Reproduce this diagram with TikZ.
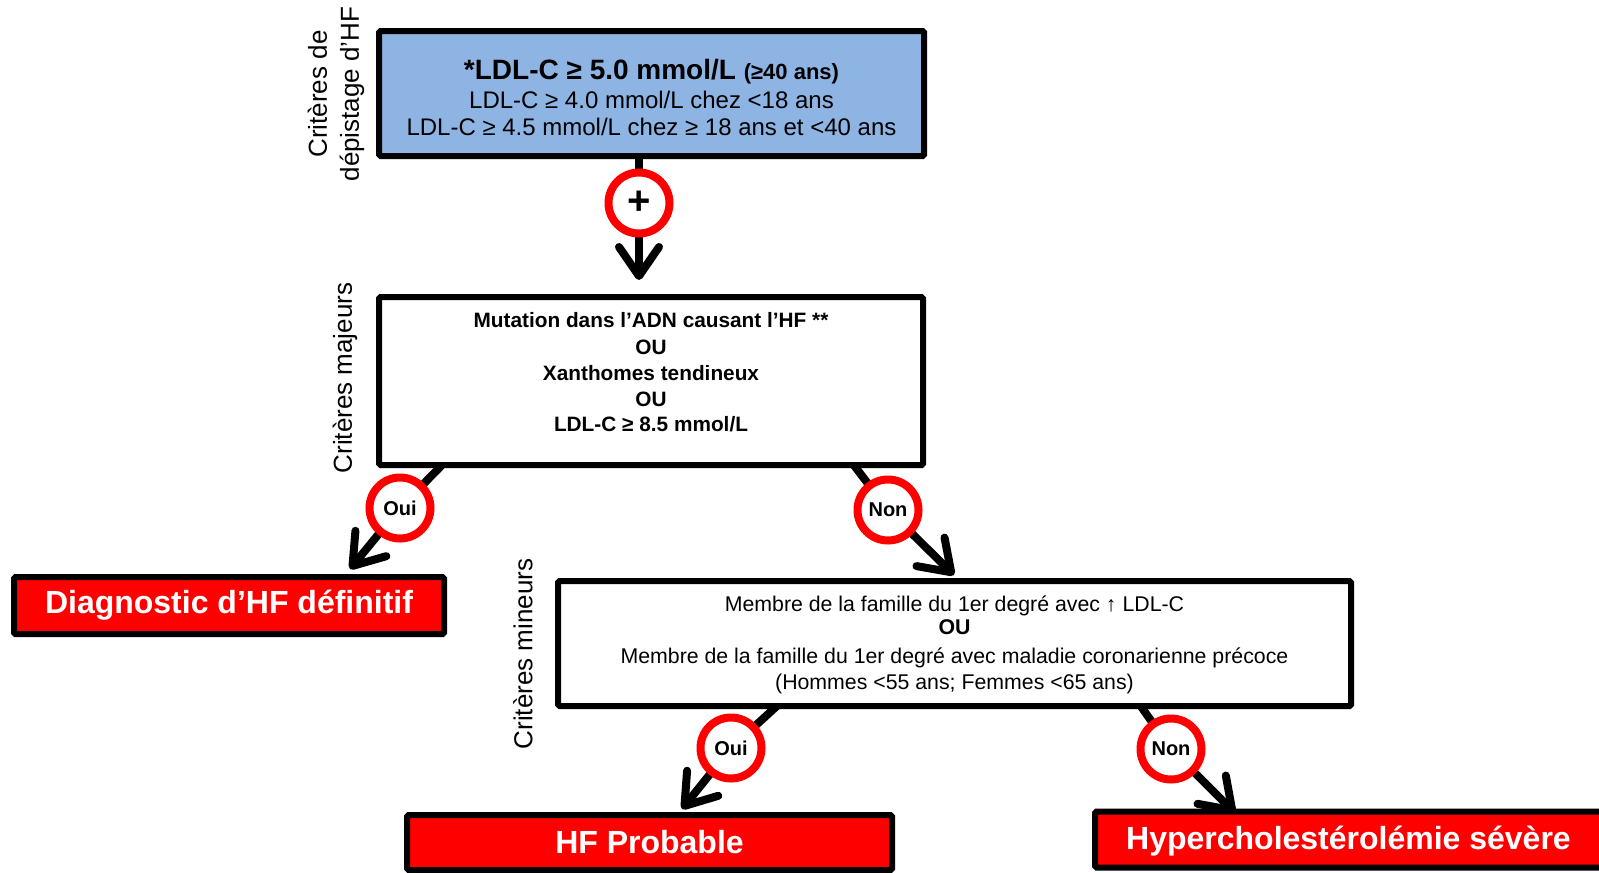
\documentclass[tikz,border=0pt]{standalone}
\usepackage{fontspec}
\setmainfont{Liberation Sans}
\usetikzlibrary{arrows.meta,backgrounds}
\definecolor{boxblue}{HTML}{8EB4E3}
\definecolor{hfred}{HTML}{FF0000}
\begin{document}
\begin{tikzpicture}[x=1pt,y=-1pt,
  box/.style={draw=black,line width=6pt,rounded corners=1.5pt,inner sep=0pt,fill=white},
  redbox/.style={box,fill=hfred,text=white,font=\fontsize{32}{38}\selectfont\bfseries},
  circ/.style={circle,draw=hfred,line width=8pt,fill=white,minimum size=61pt,inner sep=0pt,font=\fontsize{20}{24}\selectfont\bfseries},
  conn/.style={draw=black,line width=8pt,-{Straight Barb[length=29pt,width=40pt,round]}},
  side/.style={rotate=90,align=center,font=\fontsize{26}{32}\selectfont},
  ln/.style={anchor=base,inner sep=0pt},
]
\useasboundingbox (0,0) rectangle (1599,873);

% boxes
\node[box,fill=boxblue,minimum width=545pt,minimum height=125pt] (top) at (651.5,93.5) {};
\node[ln,font=\fontsize{28}{32}\selectfont\bfseries] (t1) at (651.5,79) {*LDL-C ≥ 5.0 mmol/L {\fontsize{22}{26}\selectfont (≥40 ans)}};
\node[ln,font=\fontsize{24}{28}\selectfont] (t2) at (651.5,108.5) {LDL-C ≥ 4.0 mmol/L chez <18 ans};
\node[ln,font=\fontsize{24}{28}\selectfont] (t3) at (651.5,135.5) {LDL-C ≥ 4.5 mmol/L chez ≥ 18 ans et <40 ans};

\node[box,minimum width=544pt,minimum height=168pt] (maj) at (651,381) {};
\begin{scope}[every node/.style={ln,font=\fontsize{20.8}{24}\selectfont\bfseries}]
\node (m1) at (651,327.5) {Mutation dans l’ADN causant l’HF **};
\node (m2) at (651,354.5) {OU};
\node (m3) at (651,380.5) {Xanthomes tendineux};
\node (m4) at (651,406.5) {OU};
\node (m5) at (651,431.5) {LDL-C ≥ 8.5 mmol/L};
\end{scope}

\node[box,minimum width=793pt,minimum height=125pt] (min) at (954.5,643.5) {};
\begin{scope}[every node/.style={ln,font=\fontsize{21.3}{24}\selectfont}]
\node (n1) at (954.5,611.5) {Membre de la famille du 1er degré avec ↑ LDL-C};
\node[font=\fontsize{21.3}{24}\selectfont\bfseries] (n2) at (954.5,634) {OU};
\node (n3) at (954.5,663.5) {Membre de la famille du 1er degré avec maladie coronarienne précoce};
\node (n4) at (954.5,689) {(Hommes <55 ans; Femmes <65 ans)};
\end{scope}

\node[redbox,minimum width=430pt,minimum height=57pt] (diag) at (229,605.5) {Diagnostic d’HF définitif};
\node[redbox,minimum width=485pt,minimum height=55pt] (prob) at (649.5,842.5) {HF Probable};
\node[redbox,minimum width=525pt,minimum height=56pt] (hyp) at (1357.5,839.5) {};
\node[text=white,font=\fontsize{32}{38}\selectfont\bfseries] (hypt) at (1348.5,841) {Hypercholestérolémie sévère};

% side labels
\node[side] (l1) at (336,94) {Critères de\\dépistage d’HF};
\node[side] (l2) at (345,378) {Critères majeurs};
\node[side] (l3) at (523,654) {Critères mineurs};

% circles
\node[circ,font=\fontsize{40}{40}\selectfont\bfseries] (c1) at (639,203) {+};
\node[circ] (c2) at (400,508) {Oui};
\node[circ] (c3) at (888,510) {Non};
\node[circ] (c4) at (731,748) {Oui};
\node[circ] (c5) at (1171,749) {Non};

% free ends
\coordinate (e1) at (639,280);
\coordinate (s2) at (443,464);
\coordinate (e2) at (350,569);
\coordinate (s3) at (853,464);
\coordinate (e3) at (954,575);
\coordinate (s4) at (778,705);
\coordinate (e4) at (682,809);
\coordinate (s5) at (1140,705);
\coordinate (e5) at (1235,813);

\begin{pgfonlayer}{background}
\draw[conn] (top.south -| c1) -- (c1.center) -- (e1);
\draw[conn] (s2) -- (c2.center) -- (e2);
\draw[conn] (s3) -- (c3.center) -- (e3);
\draw[conn] (s4) -- (c4.center) -- (e4);
\draw[conn] (s5) -- (c5.center) -- (e5);
\end{pgfonlayer}
\end{tikzpicture}
\end{document}
